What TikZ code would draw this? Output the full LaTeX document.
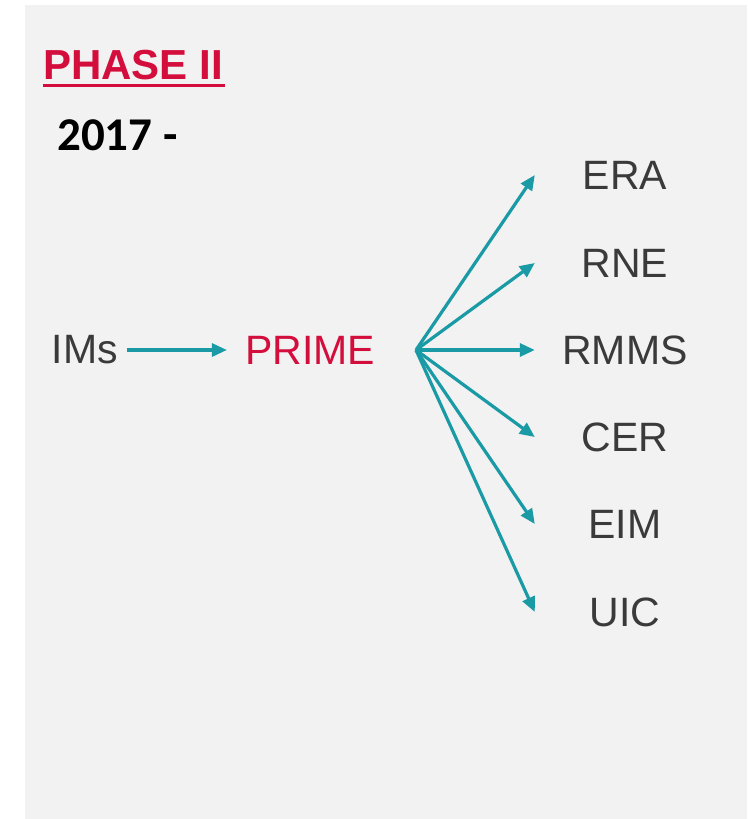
\documentclass[tikz,border=0pt]{standalone}
\usepackage{fontspec}
\setmainfont{Liberation Sans}
\newfontfamily\yearfont{Carlito}
\usepackage{tikz}
\usetikzlibrary{arrows.meta,positioning}
\usepackage{xcolor}

\definecolor{panelgray}{HTML}{F2F2F2}
\definecolor{phasered}{HTML}{D40E3C}
\definecolor{linkteal}{HTML}{1A9AA5}
\definecolor{textdark}{HTML}{3A3A3A}

\begin{document}
\begin{tikzpicture}[x=1pt,y=-1pt,
  member/.style={inner sep=0pt, text=textdark, font=\fontsize{41}{49}\selectfont},
  link/.style={linkteal, line width=3.2pt, -{Triangle[length=15pt,width=13pt]}}]

% Canvas and grey panel
\useasboundingbox (0,0) rectangle (747,819);
\fill[panelgray] (25,5) rectangle (747,819);

% Heading
\node[inner sep=0pt, anchor=base west, text=phasered,
  font=\fontsize{42}{50}\selectfont\bfseries] (phase) at (43,79) {PHASE II};
\draw[phasered, line width=3pt]
  ([yshift=-6pt]phase.base west) -- ([xshift=2pt,yshift=-6pt]phase.base east);
\node[inner sep=0pt, anchor=base west,
  font=\yearfont\fontsize{47}{55}\selectfont\bfseries] (year) at (57,150) {2017 -};

% IMs feed PRIME
\node[member] (ims) at (85,350) {IMs};
\node[member, text=phasered] (prime) at (310,350) {PRIME};
\draw[link, shorten <=9pt, shorten >=18pt] (ims) -- (prime);

% Fan out from PRIME
\coordinate (fan) at (416,350);
\foreach \nm/\yy/\txt in {era/175/ERA, rne/263/RNE, rmms/350/RMMS,
                          cer/437/CER, eim/524/EIM, uic/612/UIC}
{
  \node[member, minimum width=180pt] (\nm) at (625,\yy) {\txt};
  \draw[link] (fan) -- (\nm.west);
}

\end{tikzpicture}
\end{document}
